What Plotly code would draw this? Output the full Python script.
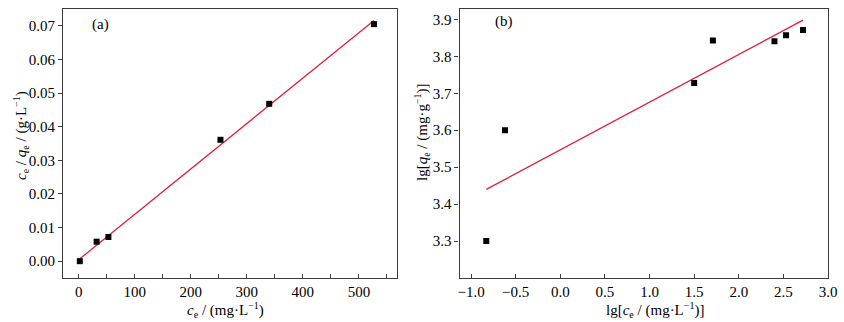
import plotly.graph_objects as go

# Panel (a): Langmuir linear plot
a_x = [2, 32, 53, 253, 340, 527]
a_y = [0.0000, 0.0058, 0.0072, 0.0361, 0.0468, 0.0705]
a_fit_x = [2, 527]
a_fit_y = [0.0007, 0.0716]

# Panel (b): Freundlich linear plot
b_x = [-0.83, -0.62, 1.50, 1.71, 2.40, 2.53, 2.72]
b_y = [3.300, 3.600, 3.728, 3.843, 3.841, 3.857, 3.871]
b_fit_x = [-0.83, 2.72]
b_fit_y = [3.440, 3.898]

a_xticks = [0, 100, 200, 300, 400, 500]
a_yticks = [0.00, 0.01, 0.02, 0.03, 0.04, 0.05, 0.06, 0.07]
b_xticks = [-1.0, -0.5, 0.0, 0.5, 1.0, 1.5, 2.0, 2.5, 3.0]
b_yticks = [3.3, 3.4, 3.5, 3.6, 3.7, 3.8, 3.9]

FONT = "Liberation Serif, Times New Roman, serif"
RED = "#e0203c"
AX = "#3a3a3a"
TFONT = dict(family=FONT, size=15, color="black")

E = "<sub><span style='font-size:10px'>e</span></sub>"
M1 = "<sup><span style='font-size:10px'>−1</span></sup>"

fig = go.Figure()
fig.add_trace(go.Scatter(x=a_fit_x, y=a_fit_y, mode="lines", line=dict(color=RED, width=1.3),
                         xaxis="x", yaxis="y", showlegend=False))
fig.add_trace(go.Scatter(x=a_x, y=a_y, mode="markers", marker=dict(symbol="square", size=6, color="black"),
                         xaxis="x", yaxis="y", showlegend=False))
fig.add_trace(go.Scatter(x=b_fit_x, y=b_fit_y, mode="lines", line=dict(color=RED, width=1.3),
                         xaxis="x2", yaxis="y2", showlegend=False))
fig.add_trace(go.Scatter(x=b_x, y=b_y, mode="markers", marker=dict(symbol="square", size=6, color="black"),
                         xaxis="x2", yaxis="y2", showlegend=False))

common = dict(showgrid=False, zeroline=False, showline=True, linecolor=AX, linewidth=1.2,
              mirror=True, ticklen=4, tickwidth=1, tickcolor=AX, automargin=False,
              tickfont=TFONT)

# plot area: x 63..828 px, y 9..278 px
def px(xp):
    return (xp - 63) / 765.0

def py(yp):
    return (278 - yp) / 269.0

fig.update_layout(
    width=844, height=322,
    margin=dict(l=63, r=16, t=9, b=44),
    paper_bgcolor="white", plot_bgcolor="white",
    xaxis=dict(domain=[0, px(397)], range=[-28, 568], tickvals=a_xticks, ticks="inside",
               minor=dict(dtick=50, tick0=0, ticks="inside", ticklen=4, tickcolor=AX),
               anchor="y", **common),
    yaxis=dict(range=[-0.005, 0.075], tickvals=a_yticks, tickformat=".2f", ticks="outside",
               anchor="x", **common),
    xaxis2=dict(domain=[px(459.5), 1], range=[-1.13, 3.0], tickvals=b_xticks, tickformat=".1f", ticks="inside",
                anchor="y2", **common),
    yaxis2=dict(range=[3.2, 3.928], tickvals=b_yticks, tickformat=".1f", ticks="outside",
                anchor="x2", **common),
    annotations=[
        dict(text="(a)", x=20, y=0.0705, xref="x", yref="y", showarrow=False, xanchor="left", font=TFONT),
        dict(text="(b)", x=-0.75, y=3.895, xref="x2", yref="y2", showarrow=False, xanchor="left", font=TFONT),
        dict(text="<i>c</i>" + E + " / (mg·L" + M1 + ")", x=px(225), y=py(310), xref="paper", yref="paper",
             showarrow=False, xanchor="center", yanchor="middle", font=TFONT),
        dict(text="lg[<i>c</i>" + E + " / (mg·L" + M1 + ")]", x=px(655), y=py(310), xref="paper", yref="paper",
             showarrow=False, xanchor="center", yanchor="middle", font=TFONT),
        dict(text="<i>c</i>" + E + " / <i>q</i>" + E + " / (g·L" + M1 + ")", x=px(21), y=py(136),
             xref="paper", yref="paper", textangle=-90,
             showarrow=False, xanchor="center", yanchor="middle", font=TFONT),
        dict(text="lg[<i>q</i>" + E + " / (mg·g" + M1 + ")]", x=px(422), y=py(132),
             xref="paper", yref="paper", textangle=-90,
             showarrow=False, xanchor="center", yanchor="middle", font=TFONT),
    ],
)

fig.write_html("out.html", config={"displayModeBar": False},
               post_script="document.body.style.margin='0';document.body.style.overflow='hidden';")
